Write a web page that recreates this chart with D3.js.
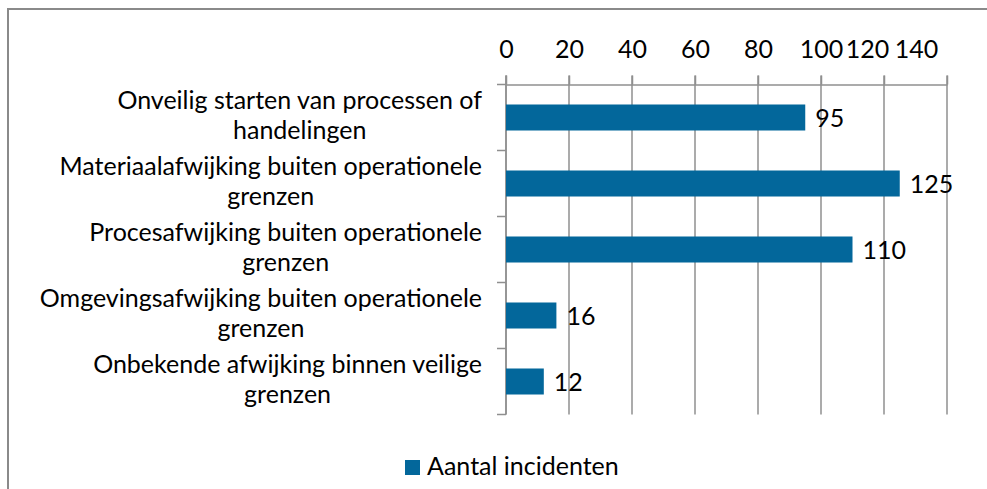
<!DOCTYPE html>
<html>
<head>
<meta charset="utf-8">
<script src="https://cdn.jsdelivr.net/npm/d3@7"></script>
<style>
  html, body { margin: 0; padding: 0; background: #fff; }
  svg { display: block; font-family: Lato, "Open Sans", sans-serif; }
</style>
</head>
<body>
<script>
// Incident counts per cause category
const categories = [
  "Onveilig starten van processen of handelingen",
  "Materiaalafwijking buiten operationele grenzen",
  "Procesafwijking buiten operationele grenzen",
  "Omgevingsafwijking buiten operationele grenzen",
  "Onbekende afwijking binnen veilige grenzen"
];
const values = [95, 125, 110, 16, 12];
const tickValues = [0, 20, 40, 60, 80, 100, 120, 140];
const seriesName = "Aantal incidenten";

// The last axis labels are packed closer together than their ticks
const tickLabelNudge = { 120: -17, 140: -31 };

const W = 987, H = 489;
const barColor = "#03679b";
const gridColor = "#8f8f8f";
const fontSize = 25;

const svg = d3.select("body").append("svg")
  .attr("width", W).attr("height", H);

// chart frame
svg.append("rect")
  .attr("x", 8).attr("y", 9)
  .attr("width", W).attr("height", H)
  .attr("fill", "#fff")
  .attr("stroke", "#8a8a8a").attr("stroke-width", 2);

const x = d3.scaleLinear().domain([0, 140]).range([506, 947]);
const y = d3.scaleBand().domain(categories)
  .range([84.5, 414.5])
  .paddingInner(0.606).paddingOuter(0.303);

const axisY = y.range()[0];
const plotBottom = y.range()[1];
const tickLen = 9;

// vertical gridlines
svg.append("g").selectAll("line")
  .data(tickValues)
  .join("line")
  .attr("x1", d => x(d)).attr("x2", d => x(d))
  .attr("y1", axisY - tickLen).attr("y2", plotBottom)
  .attr("stroke", gridColor).attr("stroke-width", 1.5);

// top value axis
const xAxis = svg.append("g")
  .attr("transform", `translate(0,${axisY})`)
  .call(d3.axisTop(x).tickValues(tickValues).tickSize(tickLen).tickSizeOuter(0));
xAxis.select(".domain").attr("stroke", gridColor).attr("stroke-width", 1.5);
xAxis.selectAll(".tick line").attr("stroke", gridColor).attr("stroke-width", 1.5);
xAxis.selectAll(".tick text")
  .attr("y", -27).attr("dy", 0)
  .attr("dx", d => tickLabelNudge[d] || 0)
  .attr("fill", "#000")
  .style("font-size", fontSize + "px")
  .style("font-family", "Lato, 'Open Sans', sans-serif");

// category axis with ticks between categories
const step = y.step();
const half = (step - y.bandwidth()) / 2;
const boundaries = categories.map(c => y(c) - half).concat([plotBottom]);
svg.append("line")
  .attr("x1", x(0)).attr("x2", x(0))
  .attr("y1", axisY - tickLen).attr("y2", plotBottom)
  .attr("stroke", gridColor).attr("stroke-width", 1.5);
svg.append("g").selectAll("line")
  .data(boundaries)
  .join("line")
  .attr("x1", x(0) - tickLen).attr("x2", x(0))
  .attr("y1", d => d).attr("y2", d => d)
  .attr("stroke", gridColor).attr("stroke-width", 1.5);

// bars
svg.append("g").selectAll("rect")
  .data(values)
  .join("rect")
  .attr("x", x(0))
  .attr("y", (d, i) => y(categories[i]))
  .attr("width", d => x(d) - x(0))
  .attr("height", y.bandwidth())
  .attr("fill", barColor);

// value labels
svg.append("g").selectAll("text")
  .data(values)
  .join("text")
  .attr("x", d => x(d) + 10)
  .attr("y", (d, i) => y(categories[i]) + y.bandwidth() / 2)
  .attr("dy", "0.36em")
  .attr("fill", "#000")
  .style("font-size", fontSize + "px")
  .text(d => d);

// wrapped category labels, widest line right-aligned, lines centred on each other
const labelRight = 482;
const wrapWidth = 450;
const lineGap = 30;
const measure = svg.append("text").style("font-size", fontSize + "px").attr("visibility", "hidden");
function textWidth(s) { measure.text(s); return measure.node().getComputedTextLength(); }
function wrap(s) {
  const words = s.split(" ");
  const lines = [];
  let cur = "";
  words.forEach(w => {
    const test = cur ? cur + " " + w : w;
    if (cur && textWidth(test) > wrapWidth) { lines.push(cur); cur = w; }
    else cur = test;
  });
  if (cur) lines.push(cur);
  return lines;
}
const labelG = svg.append("g");
categories.forEach(c => {
  const lines = wrap(c);
  const maxW = d3.max(lines, textWidth);
  const cx = labelRight - maxW / 2;
  const cy = y(c) + y.bandwidth() / 2;
  const first = cy - (lines.length - 1) * lineGap / 2 + fontSize * 0.36 - 3;
  const t = labelG.append("text")
    .attr("text-anchor", "middle")
    .attr("fill", "#000")
    .style("font-size", fontSize + "px");
  lines.forEach((ln, k) => {
    t.append("tspan").attr("x", cx).attr("y", first + k * lineGap).text(ln);
  });
});
measure.remove();

// legend
const legend = svg.append("g");
legend.append("rect")
  .attr("x", 405).attr("y", 460)
  .attr("width", 15).attr("height", 15)
  .attr("fill", barColor);
legend.append("text")
  .attr("x", 427).attr("y", 475)
  .attr("fill", "#000")
  .style("font-size", fontSize + "px")
  .text(seriesName);
</script>
</body>
</html>
